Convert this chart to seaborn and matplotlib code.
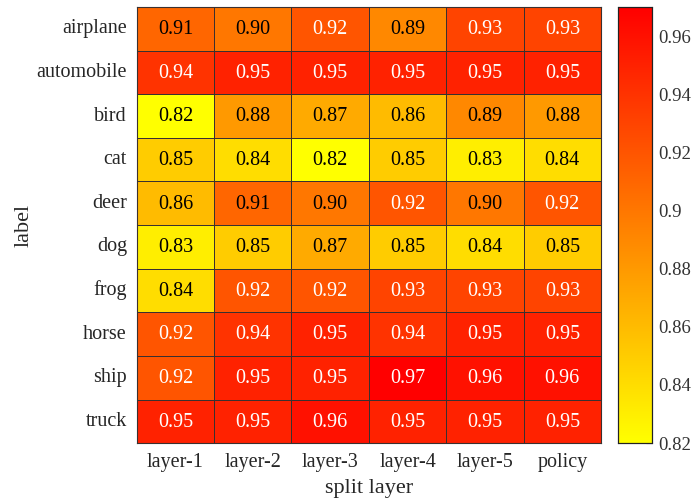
import numpy as np
import pandas as pd
import matplotlib
matplotlib.use("Agg")
import matplotlib.pyplot as plt
import seaborn as sns
from matplotlib.ticker import FuncFormatter

classes = ["airplane", "automobile", "bird", "cat", "deer",
           "dog", "frog", "horse", "ship", "truck"]
layers = ["layer-1", "layer-2", "layer-3", "layer-4", "layer-5", "policy"]

airplane   = [0.91, 0.90, 0.92, 0.89, 0.93, 0.93]
automobile = [0.94, 0.95, 0.95, 0.95, 0.95, 0.95]
bird       = [0.82, 0.88, 0.87, 0.86, 0.89, 0.88]
cat        = [0.85, 0.84, 0.82, 0.85, 0.83, 0.84]
deer       = [0.86, 0.91, 0.90, 0.92, 0.90, 0.92]
dog        = [0.83, 0.85, 0.87, 0.85, 0.84, 0.85]
frog       = [0.84, 0.92, 0.92, 0.93, 0.93, 0.93]
horse      = [0.92, 0.94, 0.95, 0.94, 0.95, 0.95]
ship       = [0.92, 0.95, 0.95, 0.97, 0.96, 0.96]
truck      = [0.95, 0.95, 0.96, 0.95, 0.95, 0.95]

rows = [airplane, automobile, bird, cat, deer, dog, frog, horse, ship, truck]
df = pd.DataFrame(rows, index=classes, columns=layers)

sns.set_theme(style="white")
plt.rcParams["font.family"] = ["Liberation Serif", "DejaVu Serif"]

fig = plt.figure(figsize=(6.94, 5.03), dpi=100)
ax = fig.add_axes([0.197, 0.119, 0.669, 0.867])
cax = fig.add_axes([0.890, 0.119, 0.049, 0.867])

sns.heatmap(df, ax=ax, cbar_ax=cax, cmap="autumn_r", vmin=0.82, vmax=0.97,
            annot=False, linewidths=0.6, linecolor="#3a3030")

vals = df.values
for i in range(vals.shape[0]):
    for j in range(vals.shape[1]):
        v = vals[i, j]
        ax.text(j + 0.5, i + 0.52, f"{v:.2f}", ha="center", va="center",
                fontsize=14.5, color="white" if v >= 0.915 else "black")

for sp in ax.spines.values():
    sp.set_visible(True)
    sp.set_color("#3a3030")
    sp.set_linewidth(0.8)

ax.set_xlabel("split layer", fontsize=16, color="#262626", labelpad=5)
ax.set_ylabel("label", fontsize=16, color="#262626", labelpad=2)
ax.tick_params(axis="both", length=0, labelsize=14.5, colors="#262626", pad=7)
ax.set_yticklabels(classes, rotation=0)
ax.set_xticklabels(layers, rotation=0)

cbar_ticks = [0.82, 0.84, 0.86, 0.88, 0.90, 0.92, 0.94, 0.96]
cax.set_yticks(cbar_ticks)
cax.yaxis.set_major_formatter(FuncFormatter(lambda x, p: f"{x:g}"))
cax.tick_params(axis="y", direction="in", length=4, width=0.8, labelsize=13.5,
                colors="#333333", pad=5, right=True)
for sp in cax.spines.values():
    sp.set_visible(True)
    sp.set_color("#222222")
    sp.set_linewidth(0.8)

fig.savefig("out.png", dpi=100)
